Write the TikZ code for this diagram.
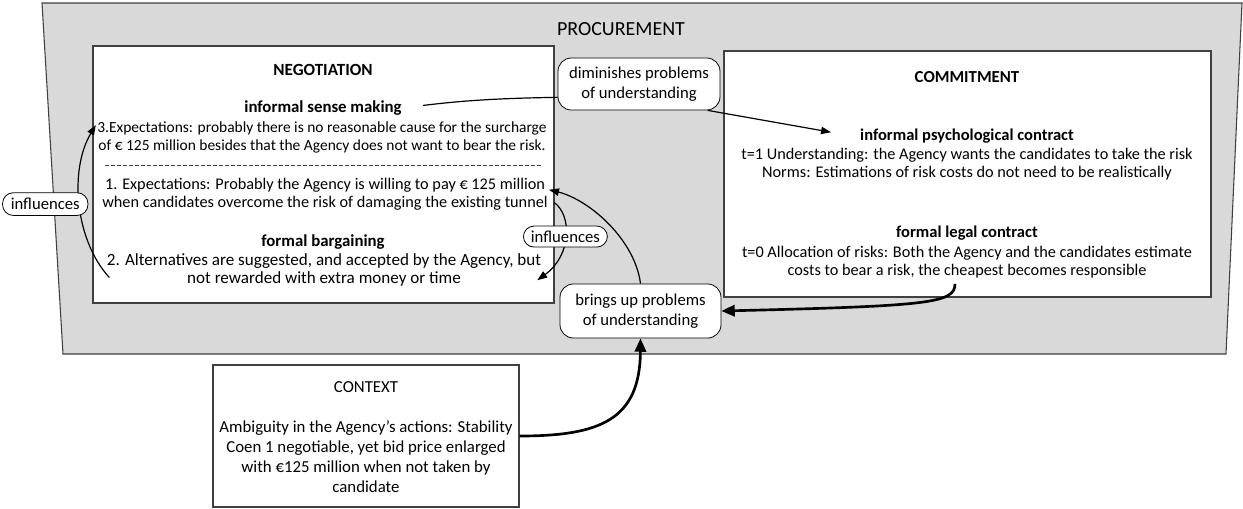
\documentclass[tikz,border=0pt]{standalone}
\usepackage{fontspec}
\setmainfont{Carlito}
\usetikzlibrary{arrows.meta}
\definecolor{procgray}{RGB}{217,217,217}
\definecolor{edgegray}{RGB}{64,64,64}
\tikzstyle{mybox} = [draw=edgegray, line width=0.8pt, fill=white, rectangle]
\tikzstyle{mytext} = [inner sep=0pt, align=center, font=\fontsize{12.2}{14}\selectfont]
\tikzstyle{mytitle} = [inner sep=0pt, font=\fontsize{12.4}{14}\selectfont\bfseries]
\tikzstyle{mylabel} = [draw=black, line width=0.6pt, fill=white, rectangle, rounded corners=8pt,
    inner sep=0pt, align=center, font=\fontsize{12.5}{15}\selectfont]
\tikzstyle{thinarrow} = [line width=0.9pt, -{Triangle[length=7.5pt,width=5.5pt]}]
\tikzstyle{thickarrow} = [line width=2pt, -{Triangle[length=10pt,width=8.5pt]}]

\begin{document}
\begin{tikzpicture}[x=0.75pt, y=-0.75pt]
                \useasboundingbox (0,0) rectangle (1243,508);
                \filldraw[fill=procgray, draw=edgegray, line width=0.8pt]
                    (42,3) -- (1242,3) -- (1226,354) -- (63,354) -- cycle;
                \node[inner sep=0pt, font=\fontsize{15}{18}\selectfont] (proc) at (621,29) {PROCUREMENT};

                % negotiation
                \node[mybox, minimum width=345.75pt, minimum height=192.75pt] (neg) at (323.5,174.5) {};
                \node[mytitle, font=\fontsize{12.8}{14}\selectfont\bfseries] (negtitle) at (323,70) {NEGOTIATION};
                \node[mytitle, font=\fontsize{12.6}{14}\selectfont\bfseries] (sense) at (323,108) {informal sense making};
                \node[mytext, font=\fontsize{11.6}{13.5}\selectfont] (exp3) at (322,137)
                    {3.Expectations: probably there is no reasonable cause for the surcharge\\
                    of € 125 million besides that the Agency does not want to bear the risk.};
                \draw[edgegray, line width=0.6pt, dash pattern=on 3pt off 1.5pt] (105,165) -- (543,165);
                \node[mytext, font=\fontsize{12.2}{13.5}\selectfont] (exp1) at (325,194)
                    {1. Expectations: Probably the Agency is willing to pay € 125 million\\
                    when candidates overcome the risk of damaging the existing tunnel};
                \node[mytitle, font=\fontsize{12.6}{14}\selectfont\bfseries] (bargain) at (323,242) {formal bargaining};
                \node[mytext, font=\fontsize{12.8}{14}\selectfont] (alt2) at (324,270)
                    {2. Alternatives are suggested, and accepted by the Agency, but\\
                    not rewarded with extra money or time};

                % commitment
                \node[mybox, minimum width=365.25pt, minimum height=184.5pt] (comm) at (967.5,174) {};
                \node[mytitle, font=\fontsize{12.6}{14}\selectfont\bfseries] (commtitle) at (967,77) {COMMITMENT};
                \node[mytitle] (psych) at (967,136) {informal psychological contract};
                \node[mytext] (psych2) at (967,164)
                    {t=1 Understanding: the Agency wants the candidates to take the risk\\
                    Norms: Estimations of risk costs do not need to be realistically};
                \node[mytitle] (legal) at (967,233) {formal legal contract};
                \node[mytext] (legal2) at (967,262)
                    {t=0 Allocation of risks: Both the Agency and the candidates estimate\\
                    costs to bear a risk, the cheapest becomes responsible};

                % context
                \node[mybox, minimum width=229.5pt, minimum height=106.5pt] (ctx) at (366,436) {};
                \node[mytext, font=\fontsize{12.6}{15}\selectfont] (ctxtitle) at (366,387) {CONTEXT};
                \node[mytext, font=\fontsize{12.6}{15}\selectfont] (ctxtext) at (366,457)
                    {Ambiguity in the Agency’s actions: Stability\\
                    Coen 1 negotiable, yet bid price enlarged\\with €125 million when not taken by\\candidate};

                \node[mylabel, rounded corners=10pt, minimum width=121.5pt, minimum height=39pt] (dimin) at (639,84)
                    {diminishes problems\\of understanding};
                \node[mylabel, rounded corners=10pt, minimum width=120.75pt, minimum height=40.5pt] (bringsup) at (640.5,311)
                    {brings up problems\\of understanding};

                \draw[line width=0.9pt, shorten <=16pt] (sense.east) to[bend left=3] ([yshift=-10pt]dimin.west);
                \draw[thinarrow, shorten >=22pt] (dimin.-21) -- ([yshift=-1pt]psych.west);
                \draw[thinarrow] ([shift={(4.5pt,6pt)}]exp1.south east) .. controls (572,215) and (572,255)
                    .. ([shift={(-3pt,5pt)}]alt2.south east)
                    node[mylabel, pos=0.5, minimum width=63pt, minimum height=15.75pt] (inflright) {influences};
                \draw[thinarrow] ([shift={(2pt,7pt)}]alt2.south west) .. controls (75,240) and (69,170)
                    .. ([shift={(-1pt,-3pt)}]exp3.north west)
                    node[mylabel, pos=0.5, anchor=east, xshift=6.5pt, minimum width=64pt, minimum height=17pt] (inflleft) {influences};
                \draw[thinarrow] (bringsup.north) .. controls (635,240) and (590,200) .. ([shift={(0.75pt,-9pt)}]exp1.north east);
                \draw[thickarrow] ([shift={(-9pt,-4pt)}]legal2.south) .. controls (955,303) and (930,306) .. (bringsup.east);
                \draw[thickarrow] (ctx.east) .. controls (600,436) and (640,420) .. (bringsup.south);
\end{tikzpicture}
\end{document}
